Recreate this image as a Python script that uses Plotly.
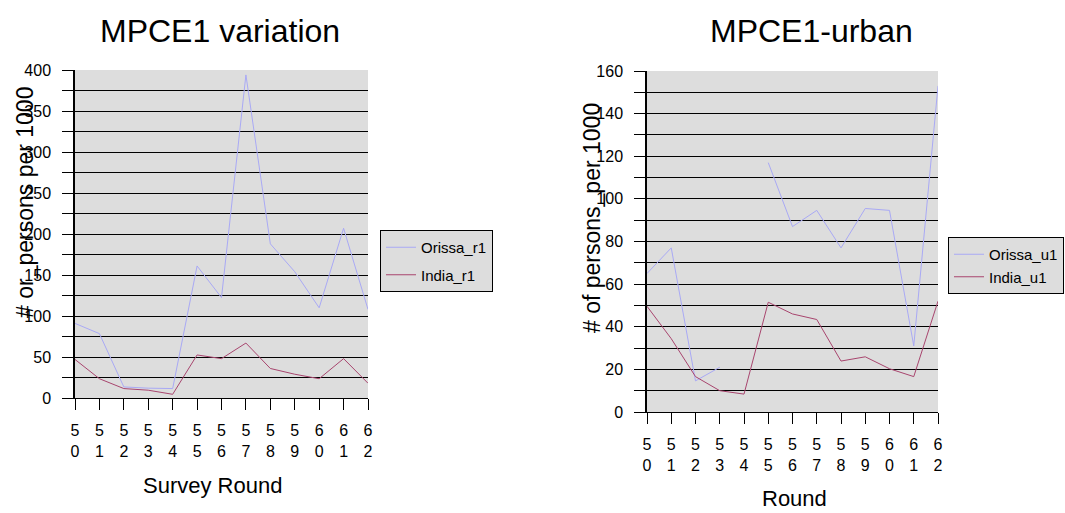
import plotly.graph_objects as go

rounds = [50, 51, 52, 53, 54, 55, 56, 57, 58, 59, 60, 61, 62]
round_labels = ["5<br>0", "5<br>1", "5<br>2", "5<br>3", "5<br>4", "5<br>5", "5<br>6",
                "5<br>7", "5<br>8", "5<br>9", "6<br>0", "6<br>1", "6<br>2"]

orissa_r1 = [91, 78.5, 13.5, 12, 11.5, 161, 122.5, 394, 188, 154, 110, 207, 108]
india_r1 = [47, 23.5, 11.5, 9.5, 4.5, 52.5, 48, 67, 36, 29, 23.5, 48, 18]

orissa_u1 = [65, 77, 14.6, 21, None, 117, 87, 94.6, 77, 95.5, 94.6, 31, 153]
india_u1 = [49.6, 34.4, 16.6, 10, 8.4, 51.5, 46, 43.4, 23.9, 25.9, 20.3, 16.6, 52]

ORISSA_COLOR = "#a9a9f5"
INDIA_COLOR = "#a8456e"
FONT = "Liberation Sans, Arial, sans-serif"
W, H = 1065, 513

fig = go.Figure()

fig.add_trace(go.Scatter(x=rounds, y=orissa_r1, mode="lines", name="Orissa_r1",
                         line=dict(color=ORISSA_COLOR, width=1), xaxis="x", yaxis="y",
                         legend="legend", legendgroup="a"))
fig.add_trace(go.Scatter(x=rounds, y=india_r1, mode="lines", name="India_r1",
                         line=dict(color=INDIA_COLOR, width=1), xaxis="x", yaxis="y",
                         legend="legend", legendgroup="b"))
fig.add_trace(go.Scatter(x=rounds, y=orissa_u1, mode="lines", name="Orissa_u1",
                         line=dict(color=ORISSA_COLOR, width=1), xaxis="x2", yaxis="y2",
                         connectgaps=False, legend="legend2", legendgroup="c"))
fig.add_trace(go.Scatter(x=rounds, y=india_u1, mode="lines", name="India_u1",
                         line=dict(color=INDIA_COLOR, width=1), xaxis="x2", yaxis="y2",
                         legend="legend2", legendgroup="d"))

def px_x(p):
    return p / W

def px_y(p):
    return 1 - p / H

xcommon = dict(
    tickmode="array", tickvals=rounds, ticktext=round_labels,
    ticks="outside", ticklen=11, tickcolor="#000", tickwidth=1,
    showline=True, linecolor="#000", linewidth=1,
    showgrid=False, zeroline=False,
    tickfont=dict(family=FONT, size=16, color="#000"),
    ticklabelstandoff=7,
    fixedrange=True,
)
ycommon = dict(
    ticks="outside", ticklen=11, tickcolor="#000", tickwidth=1,
    showline=True, linecolor="#000", linewidth=1.5,
    showgrid=True, gridcolor="#000", gridwidth=1,
    zeroline=False,
    tickfont=dict(family=FONT, size=16, color="#000"),
    ticklabelstandoff=8,
    fixedrange=True,
)

fig.update_layout(
    width=W, height=H,
    margin=dict(l=0, r=0, t=0, b=0, autoexpand=False),
    paper_bgcolor="white",
    plot_bgcolor="#dddddd",
    font=dict(family=FONT, color="#000"),
    xaxis=dict(domain=[px_x(75), px_x(368)], range=[50, 62], anchor="y", **xcommon),
    yaxis=dict(domain=[px_y(398), px_y(70)], range=[0, 400], dtick=50, anchor="x",
               minor=dict(dtick=25, showgrid=True, gridcolor="#000", gridwidth=1,
                          ticks="outside", ticklen=11, tickcolor="#000"),
               **ycommon),
    xaxis2=dict(domain=[px_x(647), px_x(938)], range=[50, 62], anchor="y2", **xcommon),
    yaxis2=dict(domain=[px_y(412), px_y(71)], range=[0, 160], dtick=20, anchor="x2",
                minor=dict(dtick=10, showgrid=True, gridcolor="#000", gridwidth=1,
                           ticks="outside", ticklen=11, tickcolor="#000"),
                **ycommon),
    legend=dict(x=px_x(380), y=px_y(230), xanchor="left", yanchor="top",
                bgcolor="#dddddd", bordercolor="#000", borderwidth=1,
                font=dict(family=FONT, size=15, color="#000"),
                traceorder="grouped", tracegroupgap=5, itemwidth=30),
    legend2=dict(x=px_x(1064), y=px_y(237), xanchor="right", yanchor="top",
                 bgcolor="#dddddd", bordercolor="#000", borderwidth=1,
                 font=dict(family=FONT, size=15, color="#000"),
                 traceorder="grouped", tracegroupgap=0, itemwidth=30),
    showlegend=True,
)

annots = [
    dict(text="MPCE1 variation", x=px_x(220), y=px_y(31), size=32, angle=0),
    dict(text="MPCE1-urban", x=px_x(811), y=px_y(31), size=32, angle=0),
    dict(text="# or_persons per 1000", x=px_x(25), y=px_y(203), size=23, angle=-90),
    dict(text="# of persons_per 1000", x=px_x(592), y=px_y(218), size=23, angle=-90),
    dict(text="Survey Round", x=px_x(212), y=px_y(485), size=22, angle=0),
    dict(text="Round", x=px_x(794), y=px_y(498), size=22, angle=0),
]
for a in annots:
    fig.add_annotation(text=a["text"], x=a["x"], y=a["y"], xref="paper", yref="paper",
                       xanchor="center", yanchor="middle", showarrow=False,
                       textangle=a["angle"],
                       font=dict(family=FONT, size=a["size"], color="#000"))

fig.write_html(
    "out.html",
    post_script="document.body.style.margin='0px';document.body.style.overflow='hidden';",
)
